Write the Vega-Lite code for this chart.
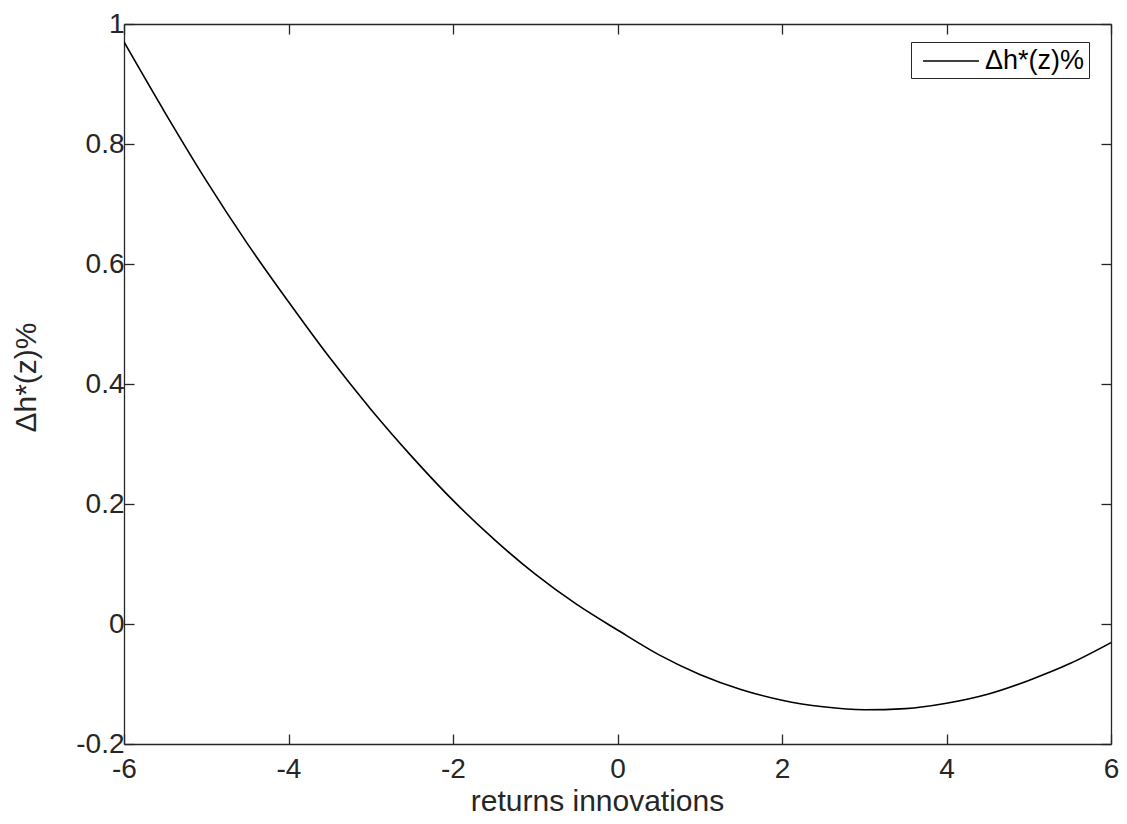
{
  "$schema": "https://vega.github.io/schema/vega-lite/v6.json",
  "width": 987,
  "height": 720,
  "autosize": {"type": "none"},
  "padding": {"left": 124, "top": 24, "right": 16, "bottom": 80},
  "background": "white",
  "config": {
    "view": {"stroke": null},
    "font": "Liberation Sans",
    "axis": {
      "grid": false,
      "domainColor": "#262626",
      "tickColor": "#262626",
      "labelColor": "#262626",
      "titleColor": "#262626",
      "labelFont": "Liberation Sans",
      "titleFont": "Liberation Sans",
      "labelFontSize": 28,
      "titleFontSize": 30,
      "titleFontWeight": "normal",
      "tickSize": -10,
      "domainWidth": 1.3,
      "tickWidth": 1.3,
      "labelFlush": false,
      "labelOverlap": false
    }
  },
  "data": {
    "values": [
      {"z": -6, "h": 0.970},
      {"z": -5.5, "h": 0.852},
      {"z": -5, "h": 0.739},
      {"z": -4.5, "h": 0.634},
      {"z": -4, "h": 0.537},
      {"z": -3.5, "h": 0.444},
      {"z": -3, "h": 0.358},
      {"z": -2.5, "h": 0.279},
      {"z": -2, "h": 0.206},
      {"z": -1.5, "h": 0.141},
      {"z": -1, "h": 0.083},
      {"z": -0.5, "h": 0.033},
      {"z": 0, "h": -0.010},
      {"z": 0.5, "h": -0.051},
      {"z": 1, "h": -0.084},
      {"z": 1.5, "h": -0.109},
      {"z": 2, "h": -0.127},
      {"z": 2.5, "h": -0.138},
      {"z": 3, "h": -0.143},
      {"z": 3.5, "h": -0.141},
      {"z": 4, "h": -0.132},
      {"z": 4.5, "h": -0.117},
      {"z": 5, "h": -0.094},
      {"z": 5.5, "h": -0.066},
      {"z": 6, "h": -0.031}
    ]
  },
  "layer": [
    {
      "mark": {"type": "line", "strokeWidth": 1.6, "interpolate": "monotone", "clip": true},
      "encoding": {
        "x": {
          "field": "z", "type": "quantitative",
          "scale": {"domain": [-6, 6], "nice": false, "zero": false},
          "axis": {"orient": "bottom", "values": [-6, -4, -2, 0, 2, 4, 6], "labelExpr": "replace(datum.label, '−', '-')", "title": "returns innovations", "labelPadding": 21, "titlePadding": 3, "titleX": 473}
        },
        "y": {
          "field": "h", "type": "quantitative",
          "scale": {"domain": [-0.2, 1], "nice": false, "zero": false},
          "axis": {"orient": "left", "values": [-0.2, 0, 0.2, 0.4, 0.6, 0.8, 1], "format": "~g", "labelExpr": "replace(datum.label, '−', '-')", "title": "Δh*(z)%", "labelPadding": 10, "titlePadding": 34, "titleY": 353}
        },
        "color": {
          "datum": "Δh*(z)%",
          "scale": {"range": ["black"]},
          "legend": {
            "title": null,
            "orient": "none",
            "legendX": 787,
            "legendY": 18,
            "symbolType": "M-2,0H2",
            "symbolSize": 784,
            "symbolStrokeWidth": 1.6,
            "symbolStrokeColor": "black",
            "symbolOffset": 21,
            "labelFontSize": 27,
            "labelFont": "Liberation Sans",
            "labelColor": "black",
            "labelOffset": 19,
            "padding": 4,
            "strokeColor": "#262626",
            "fillColor": "white"
          }
        }
      }
    },
    {
      "mark": {"type": "line", "strokeOpacity": 0},
      "encoding": {
        "x": {
          "field": "z", "type": "quantitative",
          "axis": {"orient": "top", "values": [-6, -4, -2, 0, 2, 4, 6], "labels": false, "title": null}
        },
        "y": {
          "field": "h", "type": "quantitative",
          "axis": {"orient": "right", "values": [-0.2, 0, 0.2, 0.4, 0.6, 0.8, 1], "labels": false, "title": null}
        }
      }
    }
  ],
  "resolve": {"axis": {"x": "independent", "y": "independent"}}
}
